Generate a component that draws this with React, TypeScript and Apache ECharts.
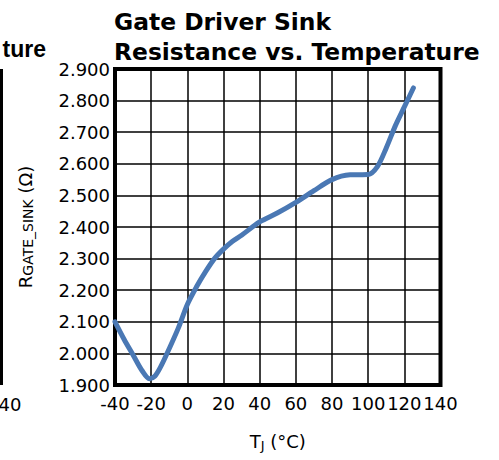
import React, { useEffect, useRef } from 'react';
import * as echarts from 'echarts';

const titleText = 'Gate Driver Sink\nResistance vs. Temperature';
const temps = [-40, -35, -30, -25, -21, -18, -15, -12, -5, 0, 5, 10, 15, 20, 25, 30, 40, 50, 60, 70, 80, 90, 100, 105, 110, 115, 120, 125];
const rSink = [2.10, 2.045, 1.995, 1.945, 1.92, 1.928, 1.955, 1.99, 2.08, 2.155, 2.21, 2.258, 2.30, 2.33, 2.355, 2.374, 2.416, 2.445, 2.478, 2.515, 2.55, 2.565, 2.566, 2.59, 2.65, 2.72, 2.78, 2.84];
const xMin = -40, xMax = 140, xStep = 20;
const yMin = 1.9, yMax = 2.9, yStep = 0.1;

export default function App() {
  const ref = useRef<HTMLDivElement>(null);
  useEffect(() => {
    const chart = echarts.init(ref.current!, null, { renderer: 'svg' });
    const font = 'DejaVu Sans';
    chart.setOption({
      animation: false,
      backgroundColor: '#fff',
      title: {
        text: titleText,
        left: 114,
        top: 7,
        padding: 0,
        textStyle: { fontFamily: font, fontWeight: 'bold', fontSize: 23.4, lineHeight: 30, color: '#000' },
      },
      graphic: [
        { type: 'text', x: 46, y: 37, style: { text: 'ture', fontFamily: 'Liberation Sans', fontWeight: 'bold', fontSize: 23, fill: '#000', align: 'right', verticalAlign: 'top' } },
        { type: 'line', shape: { x1: 1.5, y1: 69, x2: 1.5, y2: 385 }, style: { stroke: '#000', lineWidth: 3 } },
        { type: 'text', x: 10, y: 395, style: { text: '40', fontFamily: font, fontSize: 18, fill: '#000', align: 'center', verticalAlign: 'top' } },
      ],
      grid: { left: 115, right: 58.5, top: 69, bottom: 75, show: true, borderColor: '#000', borderWidth: 4, backgroundColor: 'transparent' },
      xAxis: {
        type: 'value', min: xMin, max: xMax, interval: xStep,
        axisLine: { show: false }, axisTick: { show: false },
        splitLine: { show: true, lineStyle: { color: '#000', width: 1.5 } },
        axisLabel: { fontFamily: font, fontSize: 18, color: '#000', margin: 9, formatter: (v: number) => String(Math.round(v)) },
        name: '{r|T}{s|J}{r| (°C)}', nameLocation: 'middle', nameGap: 46,
        nameTextStyle: { rich: { r: { fontFamily: font, fontSize: 18, color: '#000' }, s: { fontFamily: font, fontSize: 13, color: '#000', padding: [8, 0, 0, 0] } } },
      },
      yAxis: {
        type: 'value', min: yMin, max: yMax, interval: yStep,
        axisLine: { show: false }, axisTick: { show: false },
        splitLine: { show: true, lineStyle: { color: '#000', width: 1.5 } },
        axisLabel: { fontFamily: font, fontSize: 18, color: '#000', margin: 5, formatter: (v: number) => v.toFixed(3) },
        name: '{r|R}{s|GATE_SINK}{r| (Ω)}', nameLocation: 'middle', nameGap: 80,
        nameTextStyle: { rich: { r: { fontFamily: font, fontSize: 18, color: '#000' }, s: { fontFamily: font, fontSize: 14, color: '#000', padding: [6, 0, 0, 0] } } },
      },
      series: [{
        type: 'line',
        data: temps.map((t, i) => [t, rSink[i]]),
        smooth: 0.3,
        showSymbol: false,
        lineStyle: { color: '#4a78b4', width: 5, cap: 'round', join: 'round' },
      }],
    });
    return () => chart.dispose();
  }, []);
  return <div ref={ref} style={{ position: 'absolute', left: 0, top: 0, width: 499, height: 460 }} />;
}
